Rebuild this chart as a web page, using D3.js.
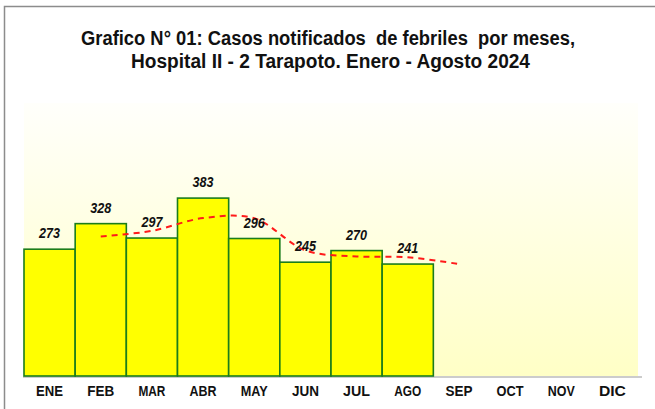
<!DOCTYPE html>
<html>
<head>
<meta charset="utf-8">
<script src="https://cdn.jsdelivr.net/npm/d3@7"></script>
<style>
  body { margin: 0; background: #fff; }
  svg { display: block; }
</style>
</head>
<body>
<div id="chart"></div>
<script>
// data
const months = ["ENE","FEB","MAR","ABR","MAY","JUN","JUL","AGO","SEP","OCT","NOV","DIC"];
const cases = [273, 328, 297, 383, 296, 245, 270, 241];
// dashed trend (2-month moving average, extended to SEP)
const trendMonths = ["FEB","MAR","ABR","MAY","JUN","JUL","AGO","SEP"];
const trendValues = [300.5, 312.5, 340, 339.5, 270.5, 257.5, 255.5, 241];
const titleLines = [
    "Grafico N° 01: Casos notificados  de febriles  por meses,",
    "Hospital II - 2 Tarapoto. Enero - Agosto 2024"
];

const width = 655, height = 409;
const svg = d3.select("#chart").append("svg")
    .attr("width", width)
    .attr("height", height);

// gradient for plot background
const defs = svg.append("defs");
const grad = defs.append("linearGradient")
    .attr("id", "bg")
    .attr("x1", 0).attr("y1", 0).attr("x2", 0).attr("y2", 1);
grad.append("stop").attr("offset", "0%").attr("stop-color", "#fffffb");
grad.append("stop").attr("offset", "100%").attr("stop-color", "#ffffc6");

// outer frame (left + top)
svg.append("path")
    .attr("d", "M4.5," + height + " L4.5,6.5 L" + width + ",6.5")
    .style("fill", "none")
    .style("stroke", "#8c8c8c")
    .style("stroke-width", 1.5);

// title (squeezed to the reference width, narrow look)
const titleX = [328, 330.5];
const titleY = [44.5, 67.5];
const titleLen = [494, 399];
svg.append("g")
    .selectAll("text")
    .data(titleLines)
    .join("text")
    .attr("x", (d, i) => titleX[i])
    .attr("y", (d, i) => titleY[i])
    .attr("text-anchor", "middle")
    .attr("textLength", (d, i) => titleLen[i])
    .attr("lengthAdjust", "spacingAndGlyphs")
    .style("font-family", "'Liberation Sans', Arial, sans-serif")
    .style("font-weight", "bold")
    .style("font-size", "19.5px")
    .style("fill", "#111")
    .style("white-space", "pre")
    .text(d => d);

const plot = { left: 24, right: 638, top: 103, bottom: 376 };

const x = d3.scaleBand()
    .domain(months)
    .range([plot.left, plot.right])
    .padding(0);

const y = d3.scaleLinear()
    .domain([0, 600])
    .range([plot.bottom, plot.bottom - 600 * 0.4645]);

// plot area background
svg.append("rect")
    .attr("x", plot.left)
    .attr("y", plot.top)
    .attr("width", plot.right - plot.left)
    .attr("height", plot.bottom - plot.top)
    .style("fill", "url(#bg)");

// bottom axis line
svg.append("line")
    .attr("x1", plot.left - 1)
    .attr("x2", plot.right + 4)
    .attr("y1", plot.bottom + 1)
    .attr("y2", plot.bottom + 1)
    .style("stroke", "#9a9a9a")
    .style("stroke-width", 1.2);

// bars
svg.append("g")
    .selectAll("rect")
    .data(cases)
    .join("rect")
    .attr("x", (d, i) => x(months[i]))
    .attr("y", d => y(d))
    .attr("width", x.bandwidth())
    .attr("height", d => y(0) - y(d))
    .style("fill", "#ffff00")
    .style("stroke", "#1b7d1b")
    .style("stroke-width", 1.6);

// trend line
const line = d3.line()
    .x((d, i) => x(trendMonths[i]) + x.bandwidth() / 2)
    .y(d => y(d))
    .curve(d3.curveCatmullRom.alpha(0.5));

svg.append("path")
    .datum(trendValues)
    .attr("d", line)
    .style("fill", "none")
    .style("stroke", "#ff1a1a")
    .style("stroke-width", 2)
    .style("stroke-dasharray", "6,5");

// value labels
svg.append("g")
    .selectAll("text")
    .data(cases)
    .join("text")
    .attr("x", (d, i) => x(months[i]) + x.bandwidth() / 2)
    .attr("y", d => y(d) - 11)
    .attr("text-anchor", "middle")
    .attr("textLength", 21)
    .attr("lengthAdjust", "spacingAndGlyphs")
    .style("font-family", "'Liberation Sans', Arial, sans-serif")
    .style("font-weight", "bold")
    .style("font-style", "italic")
    .style("font-size", "15px")
    .style("fill", "#111")
    .text(d => d);

// month labels
const xAxis = d3.axisBottom(x).tickSize(0).tickPadding(9);
const axisG = svg.append("g")
    .attr("transform", `translate(0, ${plot.bottom + 1})`)
    .call(xAxis);
axisG.select(".domain").remove();
axisG.selectAll("text")
    .attr("textLength", 27)
    .attr("lengthAdjust", "spacingAndGlyphs")
    .style("font-family", "'Liberation Sans', Arial, sans-serif")
    .style("font-weight", "bold")
    .style("font-size", "14px")
    .style("fill", "#111");
</script>
</body>
</html>
